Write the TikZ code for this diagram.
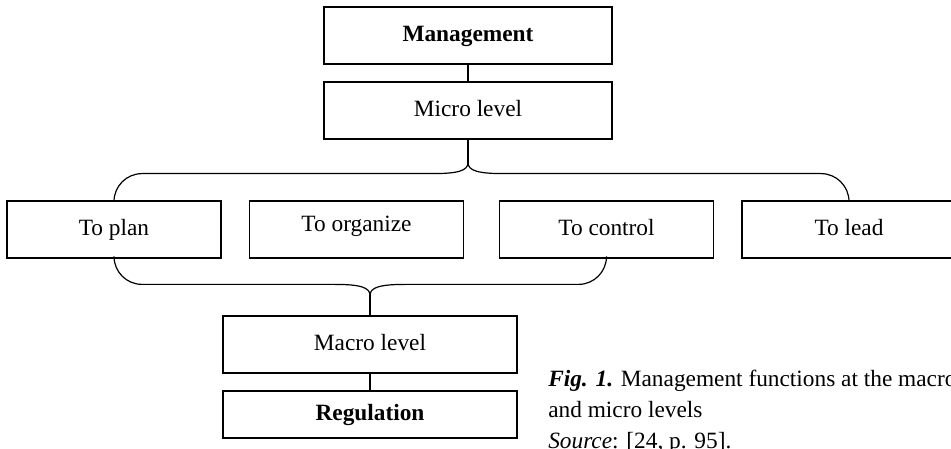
\documentclass[tikz,border=0pt]{standalone}
\usepackage{fontspec}
\setmainfont{Liberation Serif}
\usetikzlibrary{calc}

\tikzset{
  blk/.style={draw, line width=0.9pt, inner sep=0pt, text height=12pt, text depth=3.5pt, minimum width=160.5pt, minimum height=42.75pt, font=\fontsize{17.5}{20}\selectfont},
  wide/.style={blk, minimum width=216pt},
  lvl/.style={blk, minimum width=220.5pt},
  link/.style={line width=0.9pt}
}

\begin{document}
\begin{tikzpicture}[x=0.75pt,y=0.75pt,yscale=-1,xscale=1]
%set diagram left start at 0, and has height of 449
\useasboundingbox (0,0) rectangle (951,449);

% Top nodes
\node [wide] (manag) at (468,35.5) {\textbf{Management}};
\node [wide] (micro) at (468,110.5) {Micro level};
\draw [link] (manag) -- (micro);

% Functions
\node [blk] (plan) at (114,229.5) {To plan};
\node [blk] (organize) at (356.5,229.5) {\raisebox{3pt}{To organize}};
\node [blk] (control) at (606.5,229.5) {To control};
\node [blk] (lead) at (849,229.5) {To lead};

% Brace from micro level
\draw [link] (micro.south) -- ++(0,23) coordinate (tc);
\draw [link] (tc) .. controls +(0,8) and +(25,0) .. ++(-35,11) coordinate (tl);
\draw [link] (tc) .. controls +(0,8) and +(-25,0) .. ++(35,11) coordinate (tr);
\draw [link,rounded corners=21pt] (tl) -| (plan.north);
\draw [link,rounded corners=21pt] (tr) -| (lead.north);

% Bottom nodes
\node [lvl] (macro) at (370,344.5) {Macro level};
\node [lvl, minimum height=35.25pt] (regul) at (370,414.5) {\textbf{Regulation}};
\draw [link] (macro) -- (regul);

% Brace to macro level
\draw [link] (macro.north) -- ++(0,-20) coordinate (bc);
\draw [link] (bc) .. controls +(0,-8) and +(25,0) .. ++(-35,-11) coordinate (bl);
\draw [link] (bc) .. controls +(0,-8) and +(-25,0) .. ++(35,-11) coordinate (br);
\draw [link,rounded corners=21pt] (bl) -| (plan.south);
\draw [link,rounded corners=21pt] (br) -| (control.south);

% Text Node
\node [anchor=north west, inner sep=0pt, align=left, font=\fontsize{17.5}{23.25}\selectfont] (caption) at (548,370) {\textbf{\textit{Fig. 1.}} Management functions at the macro\\and micro levels\\\textit{Source}: [24, p. 95].};

\end{tikzpicture}
\end{document}
